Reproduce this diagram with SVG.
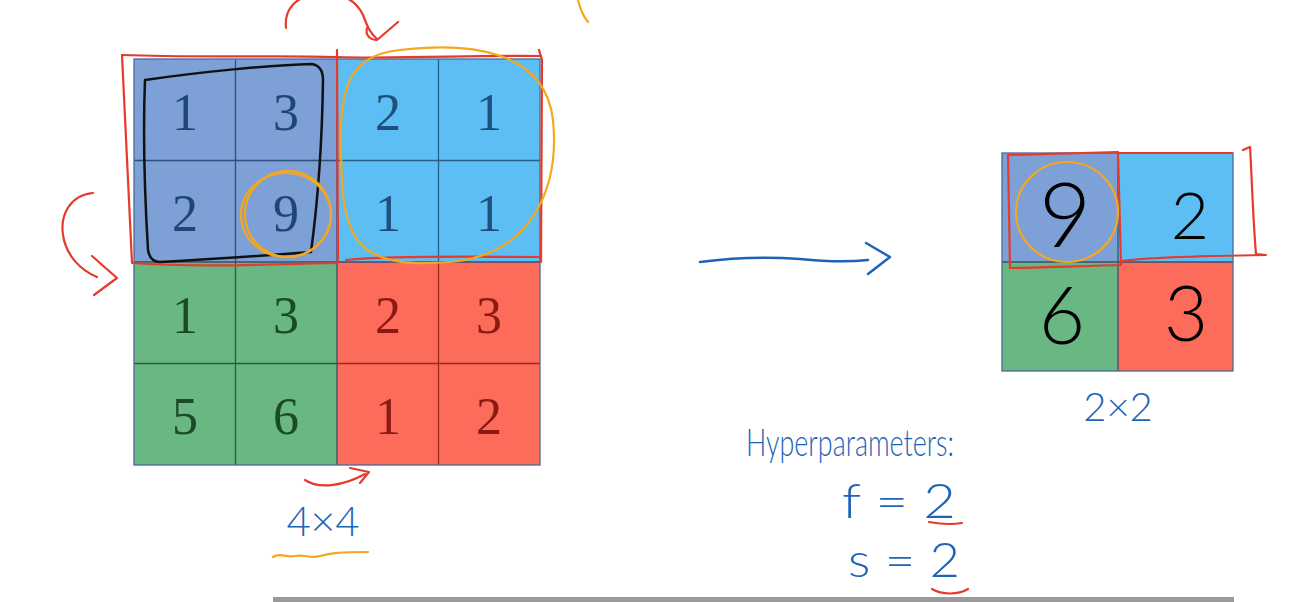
<svg xmlns="http://www.w3.org/2000/svg" width="1303" height="602" viewBox="0 0 1303 602">
<style>
.num{font-family:"Liberation Serif","DejaVu Serif",serif;font-size:52px;text-anchor:middle}
.tb{fill:#1F4577}.tl{fill:#1E4F7E}.tg{fill:#1B4A28}.tr{fill:#8A1A12}
.hand{font-family:"Lato","Open Sans",sans-serif;font-weight:300}
.hw{fill:#000;text-anchor:middle}
.blue{fill:#1F63B8}
.red{fill:none;stroke:#E8392B;stroke-width:2.2;stroke-linecap:round;stroke-linejoin:round}
.org{fill:none;stroke:#F4A71F;stroke-width:2.2;stroke-linecap:round;stroke-linejoin:round}
.blk{fill:none;stroke:#111;stroke-width:2.5;stroke-linecap:round;stroke-linejoin:round}
.bl{fill:none;stroke:#1F63B8;stroke-width:2.5;stroke-linecap:round;stroke-linejoin:round}
</style>
<rect width="1303" height="602" fill="#fff"/>

<g id="input-grid">
  <rect x="134" y="59" width="203" height="203" fill="#7DA0D6"/>
  <rect x="337" y="59" width="203" height="203" fill="#5CBEF3"/>
  <rect x="134" y="262" width="203" height="203" fill="#69B783"/>
  <rect x="337" y="262" width="203" height="203" fill="#FD6B5A"/>
  <g fill="none" stroke-width="1.3">
    <path d="M235.5,59V262M134,160.5H337" stroke="#2D4F7C"/>
    <path d="M438.5,59V262M337,160.5H540" stroke="#2A5F8C"/>
    <path d="M235.5,262V465M134,363.5H337" stroke="#2C5A3A"/>
    <path d="M438.5,262V465M337,363.5H540" stroke="#9A2A20"/>
    <path d="M337,59V465M134,262H540" stroke="#3A5070"/>
    <rect x="134" y="59" width="406" height="406" stroke="#4A6A95"/>
  </g>
  <g class="num">
    <text x="185" y="130" class="tb">1</text>
    <text x="286" y="130" class="tb">3</text>
    <text x="388" y="130" class="tl">2</text>
    <text x="489" y="130" class="tl">1</text>
    <text x="185" y="231" class="tb">2</text>
    <text x="286" y="231" class="tb">9</text>
    <text x="388" y="231" class="tl">1</text>
    <text x="489" y="231" class="tl">1</text>
    <text x="185" y="333" class="tg">1</text>
    <text x="286" y="333" class="tg">3</text>
    <text x="388" y="333" class="tr">2</text>
    <text x="489" y="333" class="tr">3</text>
    <text x="185" y="434" class="tg">5</text>
    <text x="286" y="434" class="tg">6</text>
    <text x="388" y="434" class="tr">1</text>
    <text x="489" y="434" class="tr">2</text>
  </g>
</g>

<g id="input-annotations">
  <path class="red" d="M122,55C200,58 280,55 337,57S480,55 541,56"/>
  <path class="red" d="M539,50L542,60L541,262"/>
  <path class="red" d="M122,55L132,263C200,268 280,264 337,263"/>
  <path class="red" d="M337,50L338,262"/>
  <path class="red" d="M346,260C400,255 480,257 541,257"/>
  <path class="blk" d="M145,80C200,72 270,65 312,64Q323,66 323,80C322,150 318,200 311,252C260,256 200,260 160,262Q150,262 148,250C145,200 143,130 145,80Z"/>
  <ellipse class="org" cx="286" cy="215" rx="45" ry="42"/>
  <ellipse class="org" cx="288" cy="214" rx="43" ry="43" transform="rotate(-10 288 214)"/>
  <path class="org" d="M400,50C470,42 545,50 553,120C560,190 530,255 450,262C370,268 345,250 342,180C338,100 340,56 400,50Z"/>
  <path class="org" d="M578,0C580,8 582,15 588,22"/>
  <path class="org" d="M273,557C280,552 285,558 295,556C305,554 310,559 320,556C330,553 340,552 368,552"/>
  <text x="323" y="536" class="hand blue" font-size="42" text-anchor="middle">4×4</text>
</g>

<g id="output-grid">
  <rect x="1002" y="153" width="116" height="109" fill="#7DA0D6"/>
  <rect x="1118" y="153" width="115" height="109" fill="#5CBEF3"/>
  <rect x="1002" y="262" width="116" height="109" fill="#69B783"/>
  <rect x="1118" y="262" width="115" height="109" fill="#FD6B5A"/>
  <path d="M1118,153V371M1002,262H1233" fill="none" stroke="#3A5070" stroke-width="1.3"/>
  <rect x="1002" y="153" width="231" height="218" fill="none" stroke="#4A6A95" stroke-width="1.3"/>
  <g class="hand hw" font-size="90">
    <text x="1065" y="247">9</text>
    <text x="1190" y="239" font-size="66">2</text>
    <text x="1062" y="344" font-size="80">6</text>
    <text x="1186" y="341" font-size="76">3</text>
  </g>
  <path class="red" d="M1008,155L1118,152L1121,265C1080,266 1040,268 1010,268L1008,155"/>
  <path class="red" d="M1118,153L1232,153"/>
  <path class="red" d="M1243,150L1250,147C1252,180 1253,220 1256,254L1266,255C1200,256 1150,257 1122,261"/>
  <ellipse class="org" cx="1067" cy="212" rx="51" ry="50"/>
  <text x="1118" y="421" class="hand blue" font-size="40" text-anchor="middle">2×2</text>
</g>

<g id="hyperparameters">
  <text x="746" y="456" class="hand blue" font-size="38" textLength="208" lengthAdjust="spacingAndGlyphs">Hyperparameters:</text>
  <text x="842" y="518" class="hand blue" font-size="48" textLength="114" lengthAdjust="spacingAndGlyphs">f = 2</text>
  <text x="848" y="577" class="hand blue" font-size="48" textLength="112" lengthAdjust="spacingAndGlyphs">s = 2</text>
  <path class="red" d="M929,522C940,524 950,525 962,523"/>
  <path class="red" d="M932,589C942,595 958,595 968,589"/>
</g>

<g id="connectors">
  <path class="red" d="M286,28C284,10 295,-4 318,-6C342,-8 356,0 363,15C367,25 369,32 377,39"/>
  <path class="red" d="M367,28C365,35 370,40 377,40L398,22"/>
  <path class="red" d="M93,193C70,195 60,215 63,235C66,255 80,270 97,277"/>
  <path class="red" d="M92,256L117,278L94,295"/>
  <path class="red" d="M305,480C320,490 345,485 365,474"/>
  <path class="red" d="M350,468L369,472L360,483"/>
  <path class="bl" d="M700,262C730,258 760,256 800,259C830,262 850,262 868,260"/>
  <path class="bl" d="M866,243L890,257L868,274"/>
</g>

<rect x="273" y="597" width="961" height="5" fill="#9A9A9A"/>
</svg>
